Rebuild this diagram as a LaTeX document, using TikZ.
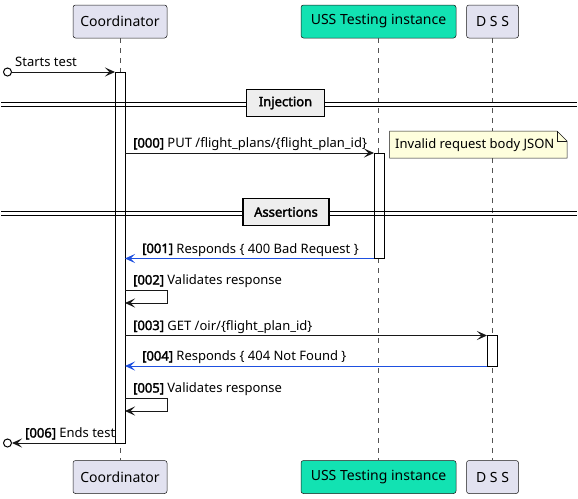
\documentclass[tikz,border=0pt]{standalone}
\usepackage{fontspec}
\setmainfont{Noto Sans}[BoldFont={Noto Sans}, BoldFeatures={FakeBold=2.2}]
\usetikzlibrary{arrows.meta}
\definecolor{partfill}{HTML}{E2E2F0}
\definecolor{partline}{HTML}{181818}
\definecolor{ussfill}{HTML}{12E2B2}
\definecolor{notefill}{HTML}{FEFEDD}
\definecolor{divfill}{HTML}{EEEEEE}
\definecolor{resp}{HTML}{1E50E0}
\tikzset{
  part/.style={draw=partline, line width=0.5pt, fill=partfill, rounded corners=2.5pt,
    minimum height=33pt, inner sep=0pt, font=\fontsize{14}{16}\selectfont, text=black},
  actbar/.style={draw=black, fill=white, line width=1pt, minimum width=10pt, inner sep=0pt},
  lifel/.style={draw=partline!75, line width=0.5pt, dash pattern=on 5pt off 5pt},
  tip/.style={-{Stealth[length=10pt,width=9pt,inset=4.5pt]}},
  msg/.style={line width=1pt, draw=partline, tip},
  respmsg/.style={line width=1pt, draw=resp, tip, color=resp},
  lbl/.style={anchor=base west, inner sep=0pt, font=\fontsize{13}{15}\selectfont, text=black},
  divbox/.style={draw=black, line width=1.5pt, fill=divfill, inner sep=0pt,
    minimum height=27pt, font=\bfseries\fontsize{13}{15}\selectfont},
  divline/.style={draw=black, line width=0.9pt},
  endcircle/.style={circle, draw=black, line width=1pt, fill=white, minimum size=8pt, inner sep=0pt},
}
\begin{document}
\begin{tikzpicture}[x=1pt,y=-1pt]
\useasboundingbox (0,0) rectangle (578,498);
% participants
\node[part, minimum width=94pt] (coordT) at (120,21.5) {Coordinator};
\node[part, minimum width=155pt, fill=ussfill] (ussT) at (378.5,21.5) {USS Testing instance};
\node[part, minimum width=52pt] (dssT) at (492.5,21.5) {D S S};
\node[part, minimum width=94pt] (coordB) at (120,477) {Coordinator};
\node[part, minimum width=155pt, fill=ussfill] (ussB) at (378.5,477) {USS Testing instance};
\node[part, minimum width=52pt] (dssB) at (492.5,477) {D S S};
% lifelines
\draw[lifel] (coordT.south) -- (coordB.north);
\draw[lifel] (ussT.south) -- (ussB.north);
\draw[lifel] (dssT.south) -- (dssB.north);
% activation bars
\node[actbar, minimum height=371pt] (coordA) at (120,257.5) {};
\node[actbar, minimum height=105pt] (ussA) at (379,205.5) {};
\node[actbar, minimum height=31pt] (dssA) at (492,350.5) {};
% start
\node[endcircle] (startC) at (7.5,72) {};
\coordinate (startE) at (115,72);
\draw[msg] (startC.east) -- (startE);
\node[lbl] (startL) at (15,66.5) {Starts test};
% Injection divider
\draw[divline] (1,102) -- (577,102);
\draw[divline] (1,106) -- (577,106);
\node[divbox, minimum width=78pt] (inj) at (285.5,103) {Injection};
% 000
\coordinate (m0a) at (125,153);
\coordinate (m0b) at (374,153);
\draw[msg] (m0a) -- (m0b);
\node[lbl] (m0L) at (133,147.5) {\textbf{[000]} PUT /flight\_plans/\{flight\_plan\_id\}};
% note
\draw[draw=partline, line width=0.5pt, fill=notefill]
  (389.5,131) -- (557,131) -- (567,141) -- (567,158) -- (389.5,158) -- cycle;
\draw[draw=partline, line width=0.5pt] (557,131) -- (557,141) -- (567,141);
\node[lbl, anchor=west] (noteT) at (395,145) {Invalid request body JSON};
% Assertions divider
\draw[divline] (1,211) -- (577,211);
\draw[divline] (1,215) -- (577,215);
\node[divbox, minimum width=86pt] (asr) at (286,212) {Assertions};
% 001
\coordinate (m1a) at (374,258.5);
\coordinate (m1b) at (125,258.5);
\draw[respmsg] (m1a) -- (m1b);
\node[lbl] (m1L) at (142,253) {\textbf{[001]} Responds \{ 400 Bad Request \}};
% 002
\coordinate (m2a) at (125,290);
\coordinate (m2b) at (125,303);
\draw[msg] (m2a) -- (167,290) -- (167,303) -- (m2b);
\node[lbl] (m2L) at (133,284.5) {\textbf{[002]} Validates response};
% 003
\coordinate (m3a) at (125,335.5);
\coordinate (m3b) at (487,335.5);
\draw[msg] (m3a) -- (m3b);
\node[lbl] (m3L) at (133,330) {\textbf{[003]} GET /oir/\{flight\_plan\_id\}};
% 004
\coordinate (m4a) at (487,366);
\coordinate (m4b) at (125,366);
\draw[respmsg] (m4a) -- (m4b);
\node[lbl] (m4L) at (142,360.5) {\textbf{[004]} Responds \{ 404 Not Found \}};
% 005
\coordinate (m5a) at (125,398);
\coordinate (m5b) at (125,411);
\draw[msg] (m5a) -- (167,398) -- (167,411) -- (m5b);
\node[lbl] (m5L) at (133,392.5) {\textbf{[005]} Validates response};
% 006
\node[endcircle] (endC) at (7.5,443) {};
\coordinate (m6a) at (115,443);
\draw[msg] (m6a) -- (endC.east);
\node[lbl] (m6L) at (25,437.5) {\textbf{[006]} Ends test};
\end{tikzpicture}
\end{document}
